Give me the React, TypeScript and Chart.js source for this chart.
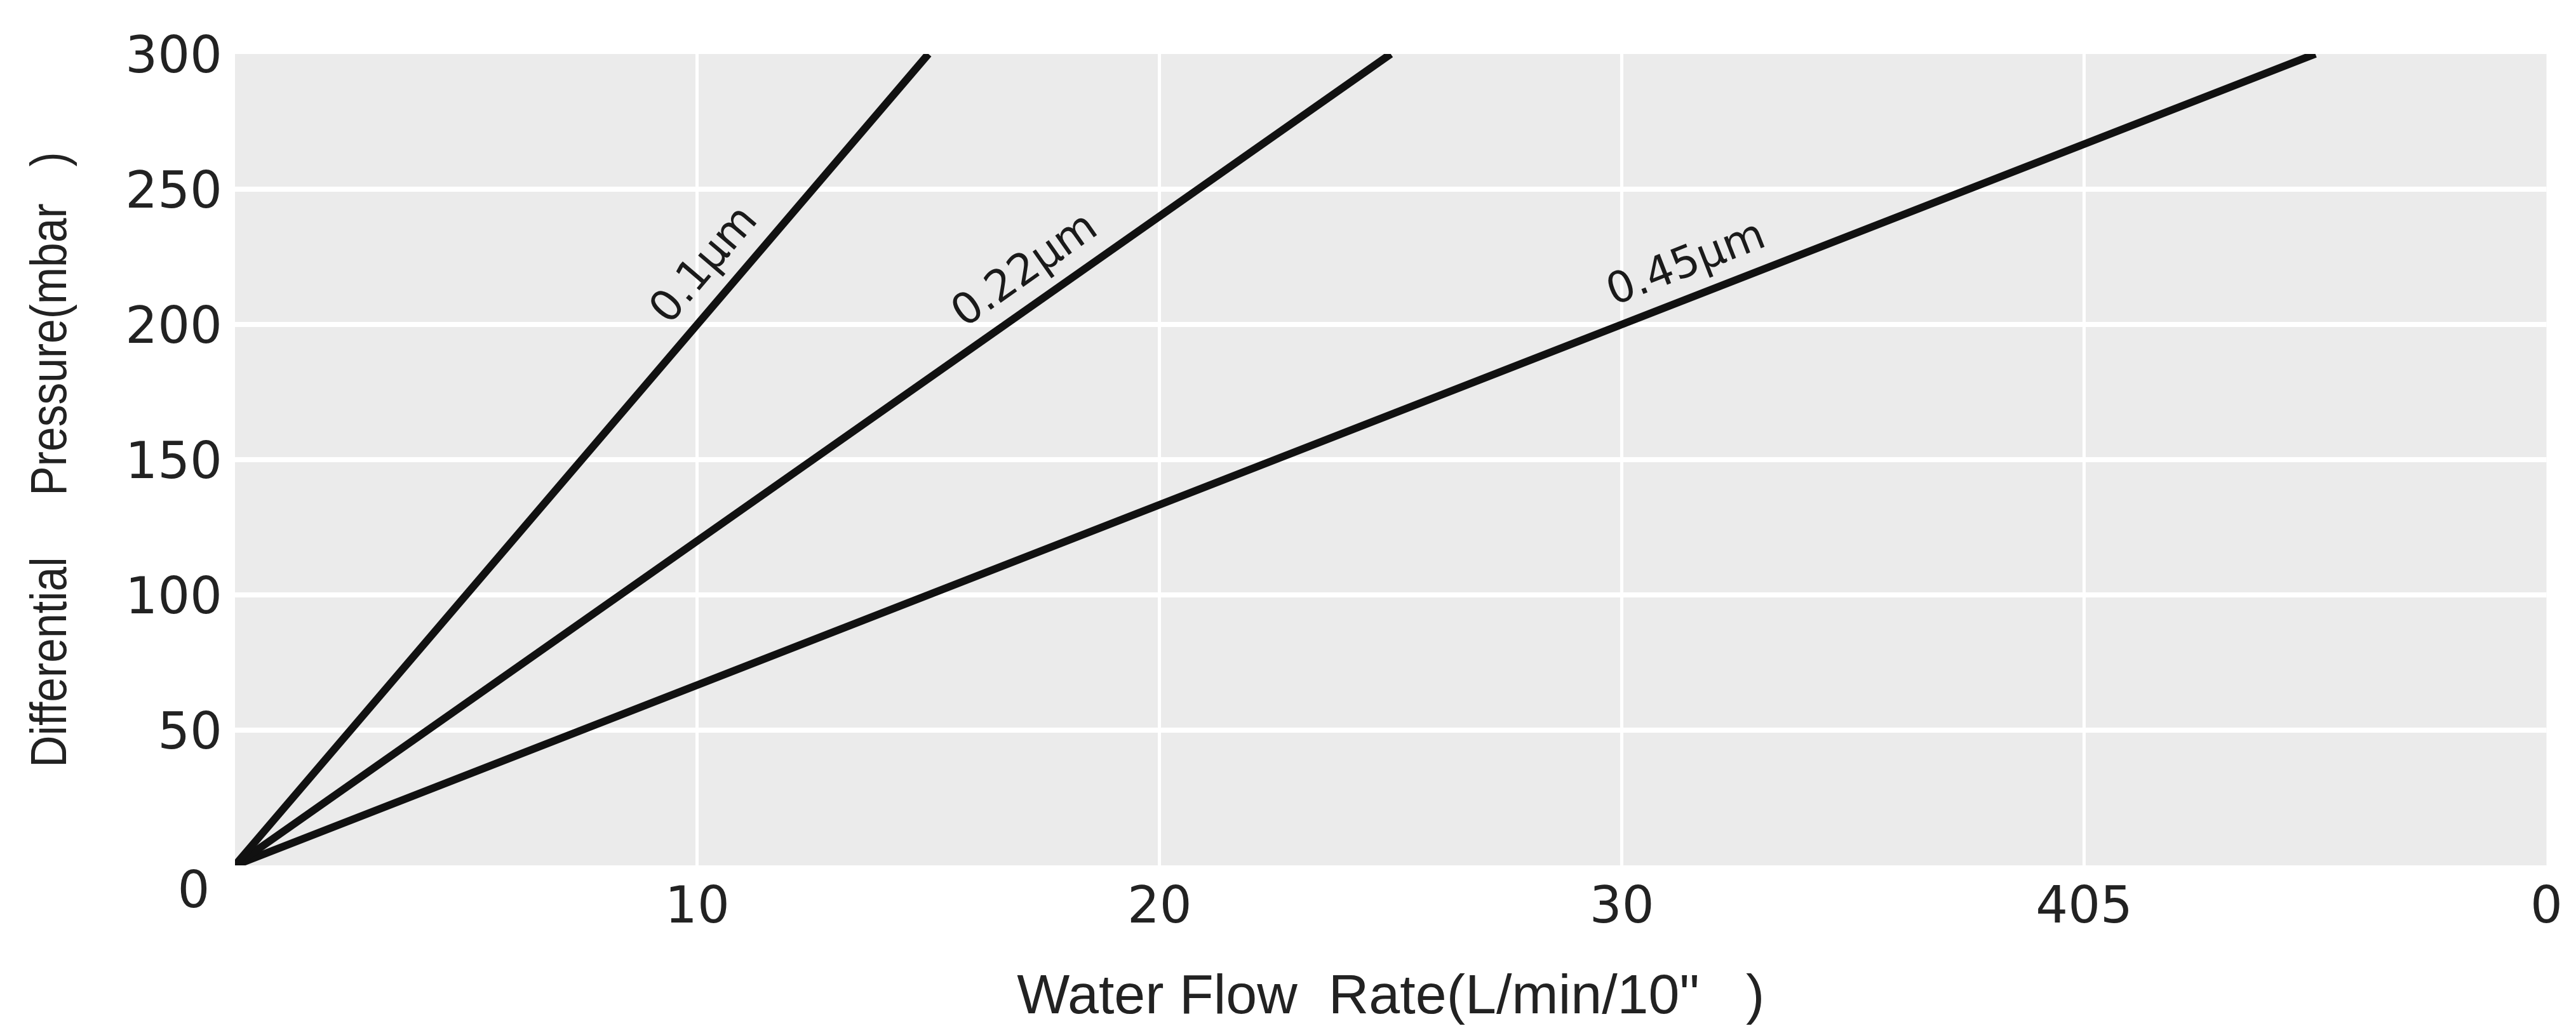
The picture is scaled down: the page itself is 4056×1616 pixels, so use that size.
import React, { useEffect, useRef } from "react";
import { Chart, registerables } from "chart.js";

Chart.register(...registerables);

// ---- data ----
const seriesNames = ["0.1μm", "0.22μm", "0.45μm"];
const flow01 = [0, 15];
const pressure01 = [0, 300];
const flow022 = [0, 25];
const pressure022 = [0, 300];
const flow045 = [0, 45];
const pressure045 = [0, 300];

const xTickValues = [0, 10, 20, 30, 40, 50];
const xTickLabels = ["", "10", "20", "30", "405", "0"];
const yTickValues = [0, 50, 100, 150, 200, 250, 300];
const yTickLabels = ["", "50", "100", "150", "200", "250", "300"];
const originLabel = "0";
const labelAtPressure = [214, 210, 211];

const xTitle = 'Water Flow  Rate(L/min/10"   )';
const yTitle = "Differential     Pressure(mbar   )";

const flows = [flow01, flow022, flow045];
const pressures = [pressure01, pressure022, pressure045];

const TICK_FONT = "'DejaVu Sans', sans-serif";
const TITLE_FONT = "'Liberation Sans', Arial, sans-serif";
const TEXT_COLOR = "#222222";

const plotBackground = {
  id: "plotBackground",
  beforeDraw(chart: any) {
    const { ctx, chartArea } = chart;
    ctx.save();
    ctx.fillStyle = "#ebebeb";
    ctx.fillRect(chartArea.left, chartArea.top, chartArea.right - chartArea.left, chartArea.bottom - chartArea.top);
    ctx.restore();
  },
};

const lineLabels = {
  id: "lineLabels",
  afterDatasetsDraw(chart: any) {
    const { ctx, scales } = chart;
    const xs = scales.x;
    const ys = scales.y;
    ctx.save();
    ctx.fillStyle = "#1a1a1a";
    ctx.font = `68px ${TICK_FONT}`;
    ctx.textAlign = "center";
    ctx.textBaseline = "middle";
    seriesNames.forEach((name, i) => {
      const f = flows[i];
      const p = pressures[i];
      const x0 = xs.getPixelForValue(f[0]);
      const y0 = ys.getPixelForValue(p[0]);
      const x1 = xs.getPixelForValue(f[f.length - 1]);
      const y1 = ys.getPixelForValue(p[p.length - 1]);
      const angle = Math.atan2(y1 - y0, x1 - x0);
      const pv = labelAtPressure[i];
      const fv = f[0] + ((pv - p[0]) / (p[p.length - 1] - p[0])) * (f[f.length - 1] - f[0]);
      const px = xs.getPixelForValue(fv);
      const py = ys.getPixelForValue(pv);
      const off = 50;
      const nx = Math.sin(angle);
      const ny = -Math.cos(angle);
      ctx.save();
      ctx.translate(px + nx * off, py + ny * off);
      ctx.rotate(angle);
      ctx.fillText(name, 0, 0);
      ctx.restore();
    });
    ctx.restore();
  },
  afterDraw(chart: any) {
    const { ctx, scales, chartArea } = chart;
    const ox = scales.x.getPixelForValue(xTickValues[0]);
    const oy = scales.y.getPixelForValue(yTickValues[0]);
    ctx.save();
    ctx.fillStyle = TEXT_COLOR;
    ctx.font = `80px ${TICK_FONT}`;
    ctx.textAlign = "center";
    ctx.textBaseline = "middle";
    ctx.fillText(originLabel, ox - 65, oy + 45);
    ctx.restore();

    // y-axis title (slightly condensed along its length, as in the reference)
    ctx.save();
    ctx.fillStyle = TEXT_COLOR;
    ctx.font = `80px ${TITLE_FONT}`;
    ctx.textAlign = "center";
    ctx.textBaseline = "middle";
    ctx.translate(82, (chartArea.top + chartArea.bottom) / 2);
    ctx.rotate(-Math.PI / 2);
    ctx.scale(0.87, 1);
    ctx.fillText(yTitle, 0, 0);
    ctx.restore();
  },
};

export default function App() {
  const canvasRef = useRef<HTMLCanvasElement | null>(null);

  useEffect(() => {
    if (!canvasRef.current) return;
    const datasets = seriesNames.map((name, i) => ({
      label: name,
      data: flows[i].map((fx, k) => ({ x: fx, y: pressures[i][k] })),
      borderColor: "#111111",
      borderWidth: 12,
      pointRadius: 0,
      fill: false,
      tension: 0,
    }));

    const chart = new Chart(canvasRef.current, {
      type: "line",
      data: { datasets },
      plugins: [plotBackground, lineLabels],
      options: {
        animation: false,
        responsive: true,
        maintainAspectRatio: false,
        layout: { padding: { top: 85, right: 46, left: 0, bottom: 0 } },
        plugins: {
          legend: { display: false },
          tooltip: { enabled: false },
        },
        scales: {
          x: {
            type: "linear",
            min: xTickValues[0],
            max: xTickValues[xTickValues.length - 1],
            afterBuildTicks(scale: any) {
              scale.ticks = xTickValues.map((v) => ({ value: v }));
            },
            afterFit(scale: any) {
              scale.height = 253;
            },
            border: { display: false },
            grid: {
              drawTicks: false,
              lineWidth: 5,
              color: (c: any) =>
                c.tick && (c.tick.value === xTickValues[0] || c.tick.value === xTickValues[xTickValues.length - 1])
                  ? "rgba(0,0,0,0)"
                  : "#ffffff",
            },
            ticks: {
              padding: 21,
              color: TEXT_COLOR,
              font: { family: TICK_FONT, size: 80 },
              maxRotation: 0,
              autoSkip: false,
              callback: (v: any) => {
                const idx = xTickValues.indexOf(Number(v));
                return idx >= 0 ? xTickLabels[idx] : "";
              },
            },
            title: {
              display: true,
              text: xTitle,
              color: TEXT_COLOR,
              font: { family: TITLE_FONT, size: 88, lineHeight: 1 },
              padding: { top: 0, bottom: 0 },
            },
          },
          y: {
            type: "linear",
            min: yTickValues[0],
            max: yTickValues[yTickValues.length - 1],
            afterBuildTicks(scale: any) {
              scale.ticks = yTickValues.map((v) => ({ value: v }));
            },
            afterFit(scale: any) {
              scale.width = 370;
            },
            border: { display: false },
            grid: {
              drawTicks: false,
              lineWidth: 8,
              color: (c: any) =>
                c.tick && (c.tick.value === yTickValues[0] || c.tick.value === yTickValues[yTickValues.length - 1])
                  ? "rgba(0,0,0,0)"
                  : "#ffffff",
            },
            ticks: {
              padding: 20,
              labelOffset: 8,
              color: TEXT_COLOR,
              font: { family: TICK_FONT, size: 80 },
              autoSkip: false,
              callback: (v: any) => {
                const idx = yTickValues.indexOf(Number(v));
                return idx >= 0 ? yTickLabels[idx] : "";
              },
            },
            title: { display: false },
          },
        },
      } as any,
    });
    return () => chart.destroy();
  }, []);

  return (
    <div
      style={{
        position: "fixed",
        left: 0,
        top: 0,
        width: "4056px",
        height: "1616px",
        background: "#ffffff",
      }}
    >
      <canvas ref={canvasRef} />
    </div>
  );
}
